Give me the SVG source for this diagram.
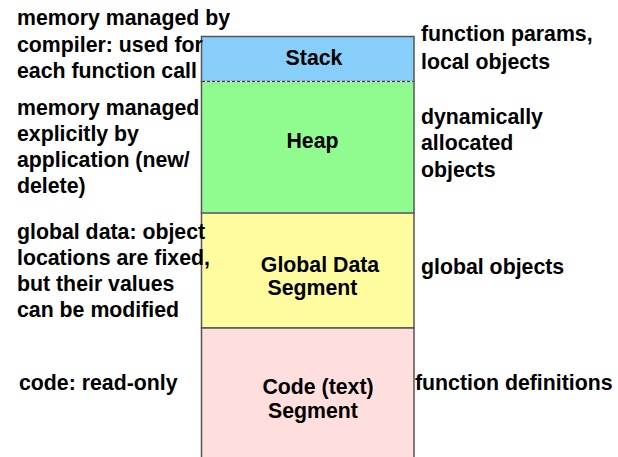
<svg xmlns="http://www.w3.org/2000/svg" width="618" height="457" viewBox="0 0 618 457">
<style>
text{font-family:"Liberation Sans",Arial,sans-serif;font-weight:bold;font-size:21.3px;fill:#000}
.c{text-anchor:middle}
.seg{stroke:#555;stroke-width:1.5}
</style>
<rect width="618" height="457" fill="#fff"/>
<g id="stack">
<rect x="201.5" y="36.5" width="212.5" height="45" fill="#87CEFA" class="seg"/>
<text class="c" x="314" y="65">Stack</text>
</g>
<g id="heap">
<rect x="201.5" y="81.5" width="212.5" height="131.5" fill="#90FC90" class="seg"/>
<text class="c" x="312.5" y="148">Heap</text>
</g>
<g id="global">
<rect x="201.5" y="213" width="212.5" height="115" fill="#FFFC9F" class="seg"/>
<text class="c" x="320" y="272">Global Data</text>
<text class="c" x="312.5" y="295">Segment</text>
</g>
<g id="code">
<rect x="201.5" y="328" width="212.5" height="140" fill="#FFDEDE" class="seg"/>
<text class="c" x="318" y="394">Code (text)</text>
<text class="c" x="313" y="418">Segment</text>
</g>
<g id="connectors">
<line x1="202" y1="81.5" x2="413.5" y2="81.5" stroke="#fff" stroke-width="1.5"/>
<line x1="202" y1="81.5" x2="413.5" y2="81.5" stroke="#333" stroke-width="1.2" stroke-dasharray="3,2"/>
<line x1="202" y1="213" x2="413.5" y2="213" stroke="#777" stroke-width="2"/>
</g>
<g id="left-notes">
<text x="17" y="25">memory managed by</text>
<text x="17" y="52">compiler: used for</text>
<text x="17" y="78">each function call</text>
<text x="17" y="115">memory managed</text>
<text x="17" y="141">explicitly by</text>
<text x="17" y="167">application (new/</text>
<text x="17" y="193">delete)</text>
<text x="17" y="239">global data: object</text>
<text x="17" y="265">locations are fixed,</text>
<text x="17" y="291">but their values</text>
<text x="17" y="317">can be modified</text>
<text x="19" y="390">code: read-only</text>
</g>
<g id="right-notes">
<text x="421" y="41">function params,</text>
<text x="421" y="69">local objects</text>
<text x="421" y="124">dynamically</text>
<text x="421" y="150">allocated</text>
<text x="421" y="177">objects</text>
<text x="421" y="274">global objects</text>
<text x="415" y="390">function definitions</text>
</g>
</svg>
